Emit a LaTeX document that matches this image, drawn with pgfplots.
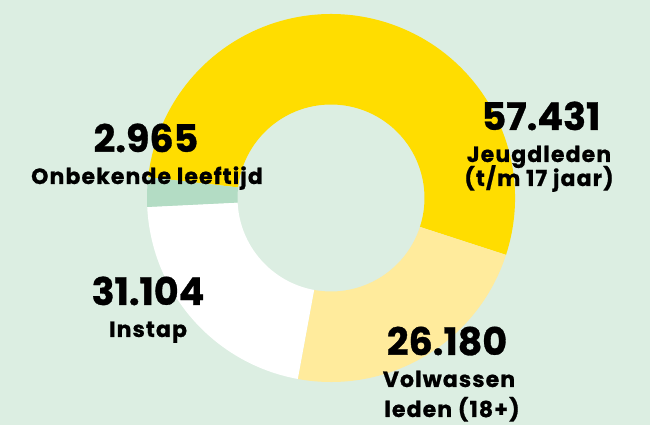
\documentclass[border=0pt]{standalone}
\usepackage{pgfplots}
\pgfplotsset{compat=1.18}
\usepackage{fontspec}
\setmainfont{Poppins}[BoldFeatures={FakeBold=0.8}]
\newfontfamily\labfont{Poppins}[LetterSpace=5, BoldFeatures={FakeBold=0.8}]
\definecolor{bg}{HTML}{DCEEE2}
\definecolor{geel}{HTML}{FFDD00}
\definecolor{lichtgeel}{HTML}{FFEB9C}
\definecolor{groen}{HTML}{B3DCC4}

% annular sector: start angle, end angle, colour (1 axis unit = 1pt)
\newcommand{\slice}[3]{%
  \fill[#3] (axis cs:331,227) ++(#1:184pt)
    arc[start angle=#1, end angle=#2, radius=184pt]
    -- ++(#2:-90.5pt)
    arc[start angle=#2, end angle=#1, radius=93.5pt] -- cycle;}

\newcommand{\num}{\fontsize{38}{40}\selectfont\bfseries}
\newcommand{\lab}{\labfont\fontsize{22}{24}\selectfont\bfseries}

\begin{document}
\begin{tikzpicture}
\begin{axis}[
  width=650pt, height=425pt,
  scale only axis,
  xmin=0, xmax=650, ymin=0, ymax=425,
  hide axis,
  clip=false,
]
\fill[bg] (axis cs:0,0) rectangle (axis cs:650,425);

% drawn spans (degrees)
\slice{-18}{173.5}{geel}       % Jeugdleden 57431
\slice{-100.4}{-18}{lichtgeel} % Volwassen leden 26180
\slice{182.8}{259.6}{white}    % Instap 31104
\slice{173.5}{182.8}{groen}    % Onbekende leeftijd 2965

\node[anchor=base] at (axis cs:541,295) {\num 57.431};
\node[anchor=base] at (axis cs:539,263) {\lab Jeugdleden};
\node[anchor=base] at (axis cs:539,239) {\lab (t/m 17 jaar)};

\node[anchor=base] at (axis cs:146,273) {\num 2.965};
\node[anchor=base] at (axis cs:147,241) {\lab Onbekende leeftijd};

\node[anchor=base] at (axis cs:148,120) {\num 31.104};
\node[anchor=base] at (axis cs:148,88) {\lab Instap};

\node[anchor=base] at (axis cs:447,70) {\num 26.180};
\node[anchor=base] at (axis cs:449,38) {\lab Volwassen};
\node[anchor=base] at (axis cs:452,8) {\lab leden (18+)};
\end{axis}
\end{tikzpicture}
\end{document}
